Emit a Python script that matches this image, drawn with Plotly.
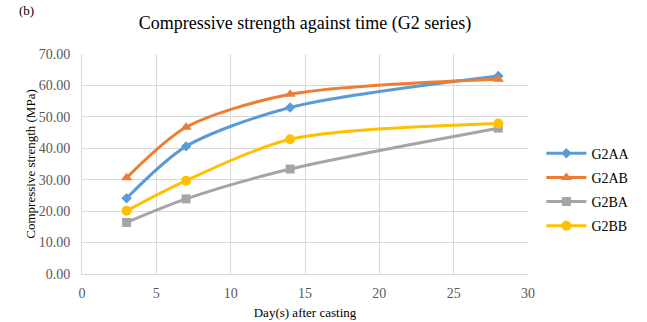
import plotly.graph_objects as go

days = [3, 7, 14, 28]
g2aa = [24.1, 40.6, 53.0, 63.0]
g2ab = [30.6, 46.7, 57.2, 62.0]
g2ba = [16.4, 23.9, 33.4, 46.4]
g2bb = [20.1, 29.7, 42.9, 47.9]

names = ["G2AA", "G2AB", "G2BA", "G2BB"]
series = [g2aa, g2ab, g2ba, g2bb]
colors = ["#5B9BD5", "#ED7D31", "#A5A5A5", "#FFC000"]
symbols = ["diamond", "triangle-up", "square", "circle"]
sizes = [8, 10, 9, 10]

FONT = "'Liberation Serif', 'Times New Roman', serif"
TICKFONT = dict(family=FONT, size=14, color="#595959")
fig = go.Figure()
for n, s, c, sym, sz in zip(names, series, colors, symbols, sizes):
    fig.add_trace(go.Scatter(
        x=days, y=s, name=n, mode="lines+markers",
        line=dict(color=c, width=3, shape="spline", smoothing=0.8),
        marker=dict(symbol=sym, size=sz, color=c),
        legendgroup=n,
    ))

fig.update_layout(
    width=647, height=322,
    margin=dict(l=82, r=116, t=54, b=48),
    paper_bgcolor="white", plot_bgcolor="white",
    font=dict(family=FONT, size=13, color="#595959"),
    title=dict(text="Compressive strength against time (G2 series)",
               x=0.5, xanchor="center", xref="paper", y=0.93, yanchor="middle",
               font=dict(family=FONT, size=18, color="#000000")),
    legend=dict(x=1.03, y=0.62, xanchor="left", yanchor="top",
                font=dict(family=FONT, size=14, color="#000000"),
                tracegroupgap=3, itemwidth=40),
)
fig.layout.annotations = [dict(text="(b)", x=-0.145, y=1.2, xref="paper", yref="paper",
                               xanchor="left", yanchor="middle", showarrow=False,
                               font=dict(family=FONT, size=13, color="#000000"))]
fig.update_xaxes(range=[0, 30], dtick=5, showgrid=True, gridcolor="#D9D9D9",
                 zeroline=False, showline=True, linecolor="#D9D9D9", ticks="",
                 tickfont=TICKFONT, ticklabelstandoff=6, automargin=False,
                 title=dict(text="Day(s) after casting", font=dict(family=FONT, size=13, color="#000000"), standoff=8))
fig.update_yaxes(range=[0, 70], dtick=10, tickformat=".2f", showgrid=True, gridcolor="#D9D9D9",
                 zeroline=False, showline=True, linecolor="#D9D9D9", ticks="",
                 tickfont=TICKFONT, ticklabelstandoff=8, automargin=False,
                 title=dict(text="Compressive strength (MPa)", font=dict(family=FONT, size=13, color="#000000"), standoff=0))
fig.write_html("out.html")
